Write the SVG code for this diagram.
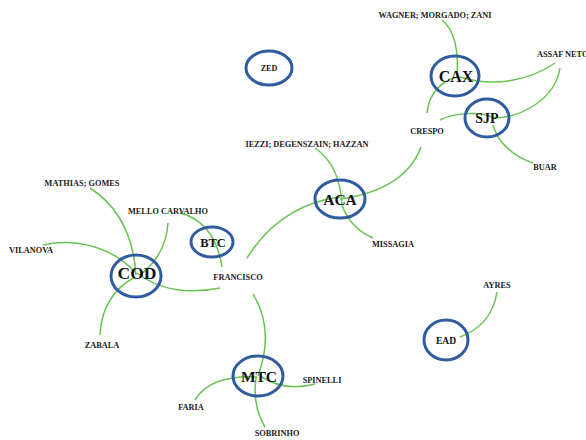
<svg xmlns="http://www.w3.org/2000/svg" width="586" height="440" viewBox="0 0 586 440">
<style>
.bg{fill:#ffffff}
.ring{fill:none;stroke:#2f5b9f;stroke-width:3}
.edge{fill:none;stroke:#66c452;stroke-width:1.5}
.lbl{font-family:"Liberation Serif","Times New Roman",serif;font-weight:bold;font-size:8.3px;fill:#1a1a1a;text-anchor:middle}
.big{font-family:"Liberation Serif","Times New Roman",serif;font-weight:bold;fill:#111111;text-anchor:middle}
</style>
<rect class="bg" x="0" y="0" width="586" height="440"/>
<g id="connectors">
<path class="edge" d="M90,188 Q132,215 136,275"/>
<path class="edge" d="M168,223 Q166,255 140,275"/>
<path class="edge" d="M43,245 C80,237 115,250 135,272"/>
<path class="edge" d="M100,335 Q102,295 135,277"/>
<path class="edge" d="M220,288 Q170,298 137,273"/>
<path class="edge" d="M180,213 Q215,222 222,267"/>
<path class="edge" d="M247,258 Q280,205 340,197"/>
<path class="edge" d="M253,294 Q275,330 258,376"/>
<path class="edge" d="M315,148 Q340,165 342,205"/>
<path class="edge" d="M342,205 Q350,228 373,238"/>
<path class="edge" d="M421,147 Q405,190 340,199"/>
<path class="edge" d="M427,113 Q430,85 457,77"/>
<path class="edge" d="M442,20 Q460,35 457,77"/>
<path class="edge" d="M555,63 C530,80 495,88 460,77"/>
<path class="edge" d="M560,68 C555,100 520,118 493,118"/>
<path class="edge" d="M440,120 C455,112 480,112 492,117"/>
<path class="edge" d="M533,163 C510,155 497,140 493,125"/>
<path class="edge" d="M315,384 Q285,392 262,377"/>
<path class="edge" d="M195,400 Q210,375 257,377"/>
<path class="edge" d="M265,427 Q252,405 256,378"/>
<path class="edge" d="M497,292 Q492,325 460,337"/>
</g>
<g id="node-zed"><ellipse class="ring" cx="269" cy="68" rx="23" ry="17"/><text class="big" x="269" y="71" font-size="8">ZED</text></g>
<g id="node-cax"><ellipse class="ring" cx="455" cy="76" rx="24" ry="20"/><text class="big" x="456" y="82" font-size="16">CAX</text></g>
<g id="node-sjp"><ellipse class="ring" cx="487" cy="118" rx="22" ry="19"/><text class="big" x="487" y="123" font-size="14">SJP</text></g>
<g id="node-aca"><ellipse class="ring" cx="340" cy="199" rx="25" ry="19"/><text class="big" x="340" y="205" font-size="15.5">ACA</text></g>
<g id="node-btc"><ellipse class="ring" cx="212" cy="242" rx="21" ry="15"/><text class="big" x="213" y="246.5" font-size="12.5">BTC</text></g>
<g id="node-cod"><ellipse class="ring" cx="136" cy="276" rx="25" ry="21"/><text class="big" x="137" y="279" font-size="17.5">COD</text></g>
<g id="node-ead"><ellipse class="ring" cx="446" cy="340" rx="22" ry="20"/><text class="big" x="446" y="343.5" font-size="9.5">EAD</text></g>
<g id="node-mtc"><ellipse class="ring" cx="258" cy="376" rx="25" ry="20"/><text class="big" x="259" y="381.5" font-size="15.5">MTC</text></g>
<g id="label-wagner"><text class="lbl" x="435" y="18">WAGNER; MORGADO; ZANI</text></g>
<g id="label-assaf"><text class="lbl" x="537" y="57" style="text-anchor:start">ASSAF NETO</text></g>
<g id="label-crespo"><text class="lbl" x="427" y="134">CRESPO</text></g>
<g id="label-buar"><text class="lbl" x="545" y="170">BUAR</text></g>
<g id="label-iezzi"><text class="lbl" x="307" y="147">IEZZI; DEGENSZAIN; HAZZAN</text></g>
<g id="label-missagia"><text class="lbl" x="393" y="247">MISSAGIA</text></g>
<g id="label-mathias"><text class="lbl" x="82" y="186">MATHIAS; GOMES</text></g>
<g id="label-mello"><text class="lbl" x="168" y="214">MELLO CARVALHO</text></g>
<g id="label-vilanova"><text class="lbl" x="31" y="253">VILANOVA</text></g>
<g id="label-francisco"><text class="lbl" x="238" y="280">FRANCISCO</text></g>
<g id="label-zabala"><text class="lbl" x="102" y="348">ZABALA</text></g>
<g id="label-ayres"><text class="lbl" x="497" y="288">AYRES</text></g>
<g id="label-spinelli"><text class="lbl" x="322" y="383">SPINELLI</text></g>
<g id="label-faria"><text class="lbl" x="191" y="410">FARIA</text></g>
<g id="label-sobrinho"><text class="lbl" x="277" y="436">SOBRINHO</text></g>
</svg>
